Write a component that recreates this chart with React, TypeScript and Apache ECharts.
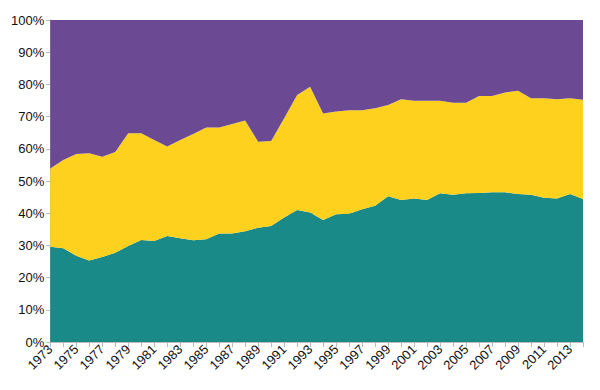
import React, { useEffect, useRef } from "react";
import * as echarts from "echarts";

const years = [
  "1973","1974","1975","1976","1977","1978","1979","1980","1981","1982",
  "1983","1984","1985","1986","1987","1988","1989","1990","1991","1992",
  "1993","1994","1995","1996","1997","1998","1999","2000","2001","2002",
  "2003","2004","2005","2006","2007","2008","2009","2010","2011","2012",
  "2013","2014",
];

// bottom band (teal), %
const tealShare = [
  29.6, 29.1, 26.8, 25.3, 26.4, 27.7, 29.8, 31.7, 31.4, 32.9,
  32.2, 31.6, 31.9, 33.7, 33.7, 34.4, 35.5, 36.0, 38.7, 41.0,
  40.2, 37.9, 39.7, 39.8, 41.2, 42.3, 45.3, 44.1, 44.6, 44.1,
  46.2, 45.7, 46.2, 46.3, 46.5, 46.5, 46.0, 45.7, 44.8, 44.6,
  46.0, 44.4,
];

// middle band (yellow), %
const yellowShare = [
  24.3, 27.4, 31.6, 33.3, 31.1, 31.3, 35.0, 33.1, 31.3, 27.8,
  30.5, 33.0, 34.7, 32.9, 34.0, 34.4, 26.7, 26.4, 30.8, 35.7,
  39.1, 33.1, 31.9, 32.2, 30.8, 30.3, 28.3, 31.3, 30.3, 30.8,
  28.7, 28.6, 28.1, 30.1, 29.9, 31.0, 32.0, 30.0, 30.9, 30.8,
  29.7, 30.8,
];

// top band (purple), %
const purpleShare = [
  46.1, 43.5, 41.6, 41.4, 42.5, 41.0, 35.2, 35.2, 37.3, 39.3,
  37.3, 35.4, 33.4, 33.4, 32.3, 31.2, 37.8, 37.6, 30.5, 23.3,
  20.7, 29.0, 28.4, 28.0, 28.0, 27.4, 26.4, 24.6, 25.1, 25.1,
  25.1, 25.7, 25.7, 23.6, 23.6, 22.5, 22.0, 24.3, 24.3, 24.6,
  24.3, 24.8,
];

const yTicks = [0, 10, 20, 30, 40, 50, 60, 70, 80, 90, 100];

export default function App() {
  const ref = useRef<HTMLDivElement>(null);
  useEffect(() => {
    if (!ref.current) return;
    const chart = echarts.init(ref.current, undefined, { renderer: "svg" });
    const mk = (name: string, data: number[], color: string) => ({
      name,
      type: "line",
      stack: "total",
      data,
      symbol: "none",
      lineStyle: { width: 0 },
      areaStyle: { color, opacity: 1 },
      itemStyle: { color },
    });
    chart.setOption({
      animation: false,
      textStyle: { fontFamily: "Liberation Sans, Arial, sans-serif" },
      grid: { left: 40, right: 9, top: 12, bottom: 40, containLabel: false },
      xAxis: {
        type: "category",
        data: years,
        boundaryGap: false,
        axisLine: { show: true, lineStyle: { color: "#bbb" } },
        axisTick: { show: true, interval: 0, length: 5, lineStyle: { color: "#bbb" } },
        axisLabel: {
          interval: 1,
          rotate: 45,
          color: "#111",
          fontSize: 13,
          margin: 5,
        },
        splitLine: { show: true, lineStyle: { color: "#ddd" } },
      },
      yAxis: {
        type: "value",
        min: 0,
        max: 100,
        interval: 10,
        axisLine: { show: true, lineStyle: { color: "#aaa" } },
        axisTick: { show: true, length: 4, lineStyle: { color: "#bbb" } },
        axisLabel: {
          color: "#111",
          fontSize: 13,
          margin: 6,
          formatter: (v: number) => (yTicks.includes(v) ? v + "%" : ""),
        },
        splitLine: { show: true, lineStyle: { color: "#999" } },
      },
      series: [
        mk("teal", tealShare, "#1a8a88"),
        mk("yellow", yellowShare, "#fed11f"),
        mk("purple", purpleShare, "#6b4a93"),
      ],
    });
    return () => chart.dispose();
  }, []);
  return <div ref={ref} style={{ width: 584, height: 374 }} />;
}
